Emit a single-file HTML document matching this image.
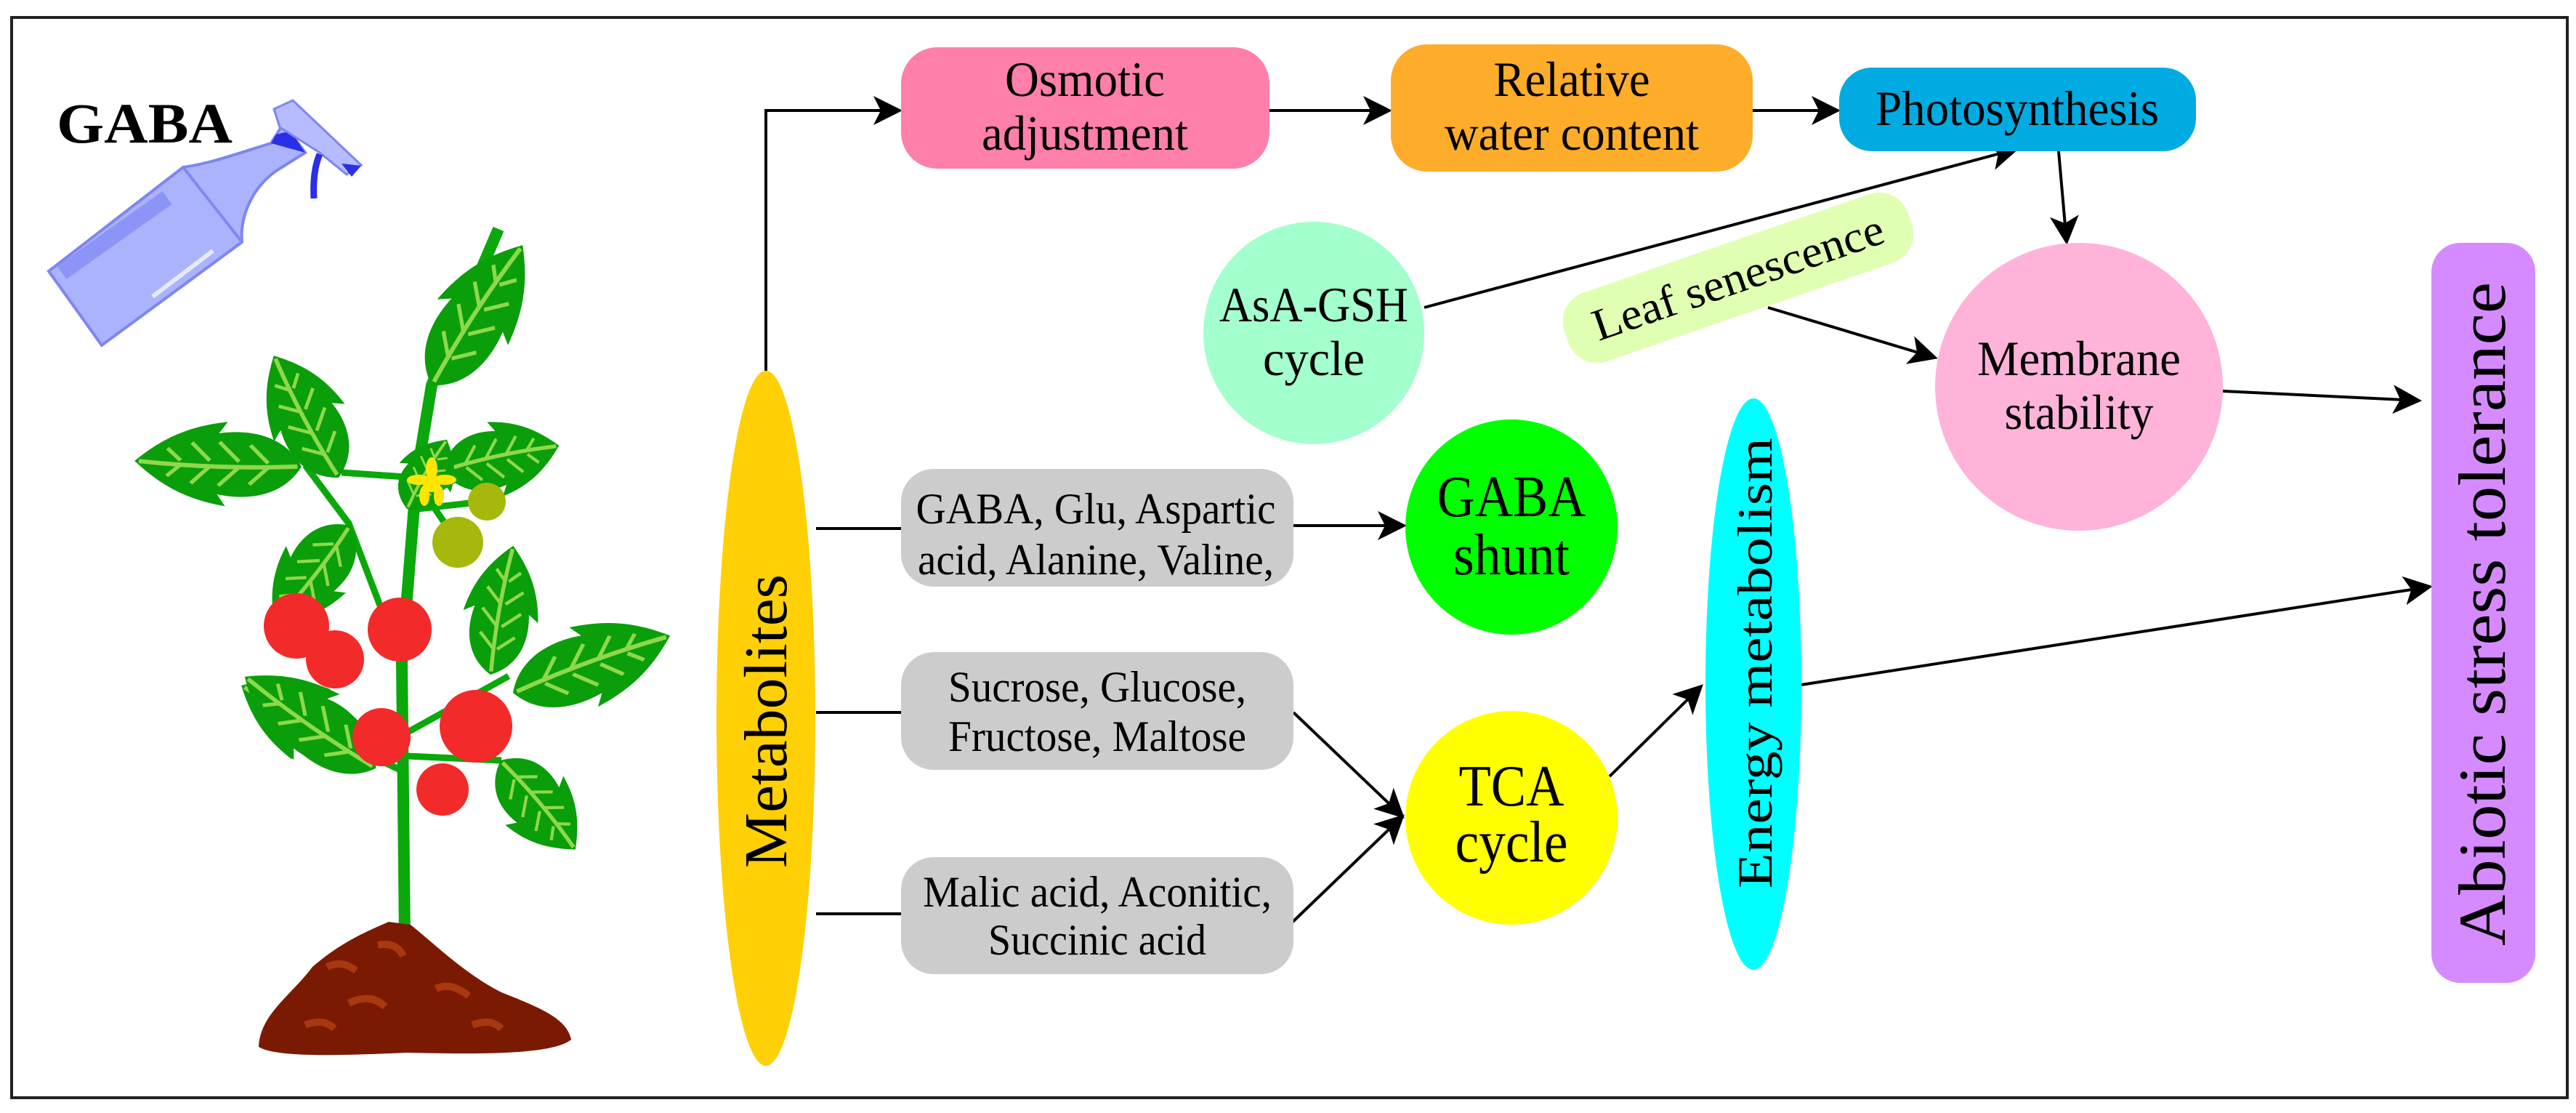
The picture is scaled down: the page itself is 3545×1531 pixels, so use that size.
<!DOCTYPE html>
<html><head><meta charset="utf-8"><style>
html,body{margin:0;padding:0;background:#fff;}
svg{display:block;}
text{font-family:"Liberation Serif","Times New Roman",serif;fill:#000;}
</style></head><body>
<svg width="3545" height="1531" viewBox="0 0 3545 1531" xmlns="http://www.w3.org/2000/svg">
<defs>
<marker id="ahb" viewBox="0 0 20 20" refX="18" refY="10" markerWidth="40" markerHeight="40" markerUnits="userSpaceOnUse" orient="auto">
<path d="M0,0 L20,10 L0,20 L5,10 z" fill="#000"/>
</marker>
<g id="leaf"><path d="M0,0 C20,-40 60,-50 100,-42 L90,-58 C140,-50 170,-30 200,0 C170,30 140,50 90,58 L100,42 C60,50 20,40 0,0 z" fill="#0a9e0a"/><path d="M5,0 Q100,-8 195,0" stroke="#8fd84a" stroke-width="6" fill="none"/><path d="M40,-3 l22,-24 M75,-4 l24,-26 M110,-4 l22,-24 M145,-3 l16,-16 M40,3 l22,24 M75,4 l24,26 M110,4 l22,24 M145,3 l16,16" stroke="#8fd84a" stroke-width="5"/></g>
</defs>
<rect x="16" y="24" width="3517" height="1486" fill="#fff" stroke="#222" stroke-width="4"/>

<!-- GABA spray -->
<text x="78" y="196" font-size="78" font-weight="bold" textLength="242" lengthAdjust="spacingAndGlyphs">GABA</text>
<path d="M67,373 L140,475 L333,333 C330,300 345,260 380,235 L420,210 L390,170 L373,197 C330,210 290,225 252,230 Z" fill="#aab3fb" stroke="#7d86ef" stroke-width="4"/>
<path d="M252,230 L333,333" stroke="#8088f5" stroke-width="4"/>
<path d="M85,375 L230,272" stroke="#8c94f8" stroke-width="22"/>
<path d="M373,197 L420,210 L400,180 L380,185 Z" fill="#2a2fe8"/>
<path d="M377,150 L403,138 L497,227 L477,240 L440,210 L385,175 Z" fill="#b6bcff" stroke="#7d86ef" stroke-width="3"/>
<path d="M470,225 L497,228 L484,243 Z" fill="#2a2fe8"/>
<path d="M440,212 Q430,235 432,273" stroke="#2a2fe8" stroke-width="9" fill="none"/>
<path d="M210,408 L293,345" stroke="#e6e9ff" stroke-width="6"/>

<!-- plant -->
<path d="M557,1290 L553,912 L573,657 L594,530 L686,315" stroke="#0aa80a" stroke-width="16" fill="none"/>
<path d="M553,912 L480,720 L420,640 M573,657 L470,650 M573,690 L660,640 M556,1010 L700,930 M553,1060 L510,1040 M560,1040 L690,1046 M575,700 L665,690 M585,680 L630,746" stroke="#0aa80a" stroke-width="9" fill="none"/>
<use href="#leaf" transform="translate(594,530) rotate(-57) scale(1.15,1)"/>
<use href="#leaf" transform="translate(415,642) rotate(182) scale(1.15,1)"/>
<use href="#leaf" transform="translate(466,657) rotate(-118) scale(0.95,0.95)"/>
<use href="#leaf" transform="translate(609,647) rotate(-12) scale(0.82,0.9)"/>
<use href="#leaf" transform="translate(482,723) rotate(128) scale(0.85,0.9)"/>
<use href="#leaf" transform="translate(706,953) rotate(-20) scale(1.15,1)"/>
<use href="#leaf" transform="translate(507,1040) rotate(-151) scale(1,0.95)"/>
<use href="#leaf" transform="translate(675,928) rotate(-80) scale(0.9,0.9)"/>
<use href="#leaf" transform="translate(517,1057) rotate(-145) scale(1.1,0.95)"/>
<use href="#leaf" transform="translate(689,1046) rotate(50) scale(0.8,0.9)"/>
<use href="#leaf" transform="translate(560,700) rotate(-60) scale(0.55,0.7)"/>
<g fill="#f32a2a">
<circle cx="408" cy="861" r="45"/><circle cx="461" cy="907" r="40"/><circle cx="550" cy="866" r="44"/>
<circle cx="525" cy="1014" r="40"/><circle cx="655" cy="999" r="50"/><circle cx="609" cy="1086" r="36"/>
</g>
<circle cx="630" cy="746" r="35" fill="#a5b80b"/><circle cx="670" cy="690" r="26" fill="#a5b80b"/>
<g fill="#ffe600"><circle cx="594" cy="665" r="12"/><ellipse cx="594" cy="645" rx="8" ry="16"/><ellipse cx="576" cy="660" rx="16" ry="7"/><ellipse cx="612" cy="660" rx="16" ry="7"/><ellipse cx="584" cy="682" rx="7" ry="14"/><ellipse cx="604" cy="682" rx="7" ry="14"/></g>
<path d="M356,1440 C358,1395 400,1370 430,1330 C465,1300 495,1285 535,1268 L565,1272 C600,1300 640,1340 690,1365 C740,1385 780,1400 786,1430 C760,1452 650,1450 560,1448 C470,1452 380,1455 356,1440 z" fill="#7a1a02"/>
<path d="M450,1330 q20,-10 40,5 M520,1300 q25,-5 35,15 M480,1380 q30,-15 50,5 M600,1360 q20,-10 45,10 M420,1410 q25,-10 40,5 M650,1410 q25,-10 40,5" stroke="#a8380e" stroke-width="10" fill="none"/>

<!-- Metabolites -->
<ellipse cx="1054" cy="988" rx="68" ry="478" fill="#ffd006"/>
<text transform="translate(1082,1194) rotate(-90)" font-size="84" textLength="404" lengthAdjust="spacingAndGlyphs">Metabolites</text>

<!-- connectors -->
<g stroke="#000" stroke-width="4" fill="none">
<polyline points="1054,510 1054,152 1238,152" marker-end="url(#ahb)"/>
<line x1="1747" y1="152" x2="1912" y2="152" marker-end="url(#ahb)"/>
<line x1="2412" y1="152" x2="2529" y2="152" marker-end="url(#ahb)"/>
<line x1="1960" y1="423" x2="2775" y2="205" marker-end="url(#ahb)"/>
<line x1="2833" y1="208" x2="2844" y2="333" marker-end="url(#ahb)"/>
<line x1="2433" y1="423" x2="2663" y2="492" marker-end="url(#ahb)"/>
<line x1="3059" y1="538" x2="3329" y2="551" marker-end="url(#ahb)"/>
<line x1="1123" y1="727" x2="1240" y2="727"/>
<line x1="1780" y1="723" x2="1932" y2="723" marker-end="url(#ahb)"/>
<line x1="1123" y1="980" x2="1240" y2="980"/>
<line x1="1123" y1="1257" x2="1240" y2="1257"/>
<line x1="1780" y1="980" x2="1930" y2="1123" marker-end="url(#ahb)"/>
<line x1="1776" y1="1271" x2="1930" y2="1123" marker-end="url(#ahb)"/>
<line x1="2215" y1="1068" x2="2341" y2="944" marker-end="url(#ahb)"/>
<line x1="2479" y1="942" x2="3344" y2="807" marker-end="url(#ahb)"/>
</g>

<!-- top boxes -->
<rect x="1240" y="65" width="507" height="167" rx="50" fill="#ff7fab"/>
<text x="1493" y="132" font-size="68" text-anchor="middle" textLength="220" lengthAdjust="spacingAndGlyphs">Osmotic</text>
<text x="1493" y="206" font-size="68" text-anchor="middle" textLength="284" lengthAdjust="spacingAndGlyphs">adjustment</text>
<rect x="1914" y="61" width="498" height="175" rx="50" fill="#fdad2a"/>
<text x="2163" y="132" font-size="68" text-anchor="middle" textLength="215" lengthAdjust="spacingAndGlyphs">Relative</text>
<text x="2163" y="206" font-size="68" text-anchor="middle" textLength="350" lengthAdjust="spacingAndGlyphs">water content</text>
<rect x="2531" y="93" width="491" height="115" rx="45" fill="#00abe1"/>
<text x="2776" y="172" font-size="68" text-anchor="middle" textLength="390" lengthAdjust="spacingAndGlyphs">Photosynthesis</text>

<ellipse cx="1808" cy="458" rx="152" ry="153" fill="#a3ffcd"/>
<text x="1808" y="442" font-size="68" text-anchor="middle" textLength="260" lengthAdjust="spacingAndGlyphs">AsA-GSH</text>
<text x="1808" y="516" font-size="68" text-anchor="middle" textLength="140" lengthAdjust="spacingAndGlyphs">cycle</text>

<g transform="translate(2392,382) rotate(-19)">
<rect x="-250" y="-50" width="500" height="100" rx="42" fill="#e0ffb3"/>
<text x="0" y="20" font-size="62" text-anchor="middle" textLength="420" lengthAdjust="spacingAndGlyphs">Leaf senescence</text>
</g>

<ellipse cx="2861" cy="532" rx="198" ry="198" fill="#ffb3d9"/>
<text x="2861" y="516" font-size="68" text-anchor="middle" textLength="280" lengthAdjust="spacingAndGlyphs">Membrane</text>
<text x="2861" y="590" font-size="68" text-anchor="middle" textLength="205" lengthAdjust="spacingAndGlyphs">stability</text>

<rect x="3346" y="334" width="143" height="1018" rx="40" fill="#d58bff"/>
<text transform="translate(3447,1301) rotate(-90)" font-size="92" textLength="913" lengthAdjust="spacingAndGlyphs">Abiotic stress tolerance</text>

<!-- gray boxes -->
<rect x="1240" y="645" width="540" height="162" rx="45" fill="#cccccc"/>
<text x="1508" y="720" font-size="60" text-anchor="middle" textLength="495" lengthAdjust="spacingAndGlyphs">GABA, Glu, Aspartic</text>
<text x="1508" y="790" font-size="60" text-anchor="middle" textLength="490" lengthAdjust="spacingAndGlyphs">acid, Alanine, Valine,</text>
<rect x="1240" y="897" width="540" height="162" rx="45" fill="#cccccc"/>
<text x="1510" y="965" font-size="60" text-anchor="middle" textLength="410" lengthAdjust="spacingAndGlyphs">Sucrose, Glucose,</text>
<text x="1510" y="1033" font-size="60" text-anchor="middle" textLength="410" lengthAdjust="spacingAndGlyphs">Fructose, Maltose</text>
<rect x="1240" y="1179" width="540" height="161" rx="45" fill="#cccccc"/>
<text x="1510" y="1247" font-size="60" text-anchor="middle" textLength="480" lengthAdjust="spacingAndGlyphs">Malic acid, Aconitic,</text>
<text x="1510" y="1313" font-size="60" text-anchor="middle" textLength="300" lengthAdjust="spacingAndGlyphs">Succinic acid</text>

<ellipse cx="2080" cy="725" rx="146" ry="148" fill="#00ff00"/>
<text x="2080" y="710" font-size="80" text-anchor="middle" textLength="205" lengthAdjust="spacingAndGlyphs">GABA</text>
<text x="2080" y="790" font-size="80" text-anchor="middle" textLength="160" lengthAdjust="spacingAndGlyphs">shunt</text>

<ellipse cx="2080" cy="1125" rx="146" ry="147" fill="#ffff00"/>
<text x="2080" y="1108" font-size="80" text-anchor="middle" textLength="145" lengthAdjust="spacingAndGlyphs">TCA</text>
<text x="2080" y="1185" font-size="80" text-anchor="middle" textLength="155" lengthAdjust="spacingAndGlyphs">cycle</text>

<ellipse cx="2413" cy="941" rx="66" ry="393" fill="#00ffff"/>
<text transform="translate(2438,1222) rotate(-90)" font-size="68" textLength="620" lengthAdjust="spacingAndGlyphs">Energy metabolism</text>
</svg>
</body></html>
